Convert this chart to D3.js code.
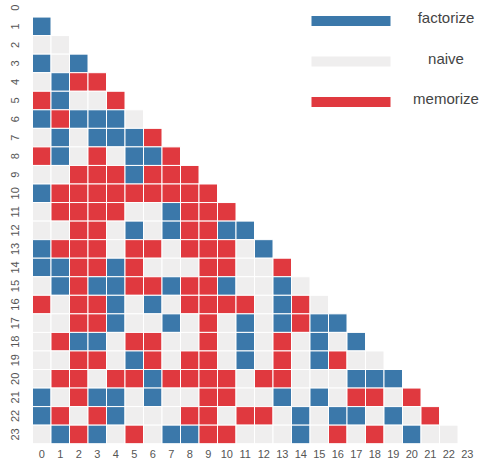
<!DOCTYPE html>
<html>
<head>
<meta charset="utf-8">
<script src="https://cdn.jsdelivr.net/npm/d3@7"></script>
<style>
  html, body { margin: 0; padding: 0; background: #fff; }
  svg { display: block; font-family: "Liberation Sans", Arial, sans-serif; }
</style>
</head>
<body>
<svg id="chart" width="485" height="465"></svg>
<script>
// Best method for each pair (row > column): F = factorize, N = naive, M = memorize
const categories = ["factorize", "naive", "memorize"];
const codes = { F: "factorize", N: "naive", M: "memorize" };
const colors = ["#3b78aa", "#efeeee", "#e0393f"];
const tickLabels = d3.range(24).map(String);

const rows = [
  "",
  "F",
  "NN",
  "FNF",
  "NFMM",
  "MFNNM",
  "FMFFFN",
  "NFNFFFM",
  "MFNMNFFM",
  "NNMMMFMMM",
  "FMMMMMMMMM",
  "NMMMMNNFMMM",
  "NNMMNFNFMMFF",
  "FMMMNMMNMMMNF",
  "FFMMFMNNNMMNNM",
  "NFMFFMMFMMFNNFN",
  "MNMMFNFNMMMMNFMN",
  "NNMMFNNFNMNFNFMFF",
  "NMFFNMMNNMNFNMNFNF",
  "NNMMNFMNMMNFNMNFMNN",
  "NMMNMMFMMMMNMMNNNFFF",
  "FNMFFNFNNMMNNFNFNMMNM",
  "FMNMFNNNMMNMMNFNFFNFNM",
  "NFMFNMNFFMMNNNFNMNMNFNN"
];

const cells = [];
rows.forEach((r, i) => {
  r.split("").forEach((c, j) => cells.push({ row: i, col: j, method: codes[c] }));
});

const svg = d3.select("#chart");

const x = d3.scaleBand().domain(tickLabels).range([32.5, 476.5]).padding(0);
const y = d3.scaleBand().domain(tickLabels).range([-1.5, 443.7]).padding(0);
const color = d3.scaleOrdinal().domain(categories).range(colors);

// heatmap cells
svg.append("g")
  .selectAll("rect")
  .data(cells)
  .join("rect")
  .attr("x", d => x(String(d.col)))
  .attr("y", d => y(String(d.row)))
  .attr("width", x.bandwidth())
  .attr("height", y.bandwidth())
  .attr("fill", d => color(d.method))
  .attr("stroke", "#ffffff")
  .attr("stroke-width", 1);

// x axis labels
const xAxis = svg.append("g")
  .attr("transform", "translate(0,447)")
  .call(d3.axisBottom(x).tickSize(0).tickPadding(3));
xAxis.select(".domain").remove();
xAxis.selectAll("text")
  .attr("font-size", 11)
  .attr("fill", "#555")
  .attr("font-family", "'Liberation Sans', Arial, sans-serif");

// y axis labels, rotated to read upward
const yAxis = svg.append("g")
  .attr("transform", "translate(20,0)")
  .call(d3.axisLeft(y).tickSize(0).tickPadding(0));
yAxis.select(".domain").remove();
yAxis.selectAll(".tick text")
  .attr("font-size", 11)
  .attr("fill", "#555")
  .attr("font-family", "'Liberation Sans', Arial, sans-serif")
  .attr("text-anchor", "middle")
  .attr("transform", "rotate(-90)")
  .attr("x", 0)
  .attr("y", -5)
  .attr("dy", "0.35em");

// legend
const legend = svg.append("g");
const legendY = d3.scalePoint().domain(categories).range([21, 102]);
legend.selectAll("rect")
  .data(categories)
  .join("rect")
  .attr("x", 311.5)
  .attr("y", d => legendY(d) - 5)
  .attr("width", 79)
  .attr("height", 10)
  .attr("fill", d => color(d));
legend.selectAll("text")
  .data(categories)
  .join("text")
  .attr("x", 446)
  .attr("y", d => legendY(d) + 2)
  .attr("text-anchor", "middle")
  .attr("font-size", 15)
  .attr("fill", "#444")
  .text(d => d);
</script>
</body>
</html>
